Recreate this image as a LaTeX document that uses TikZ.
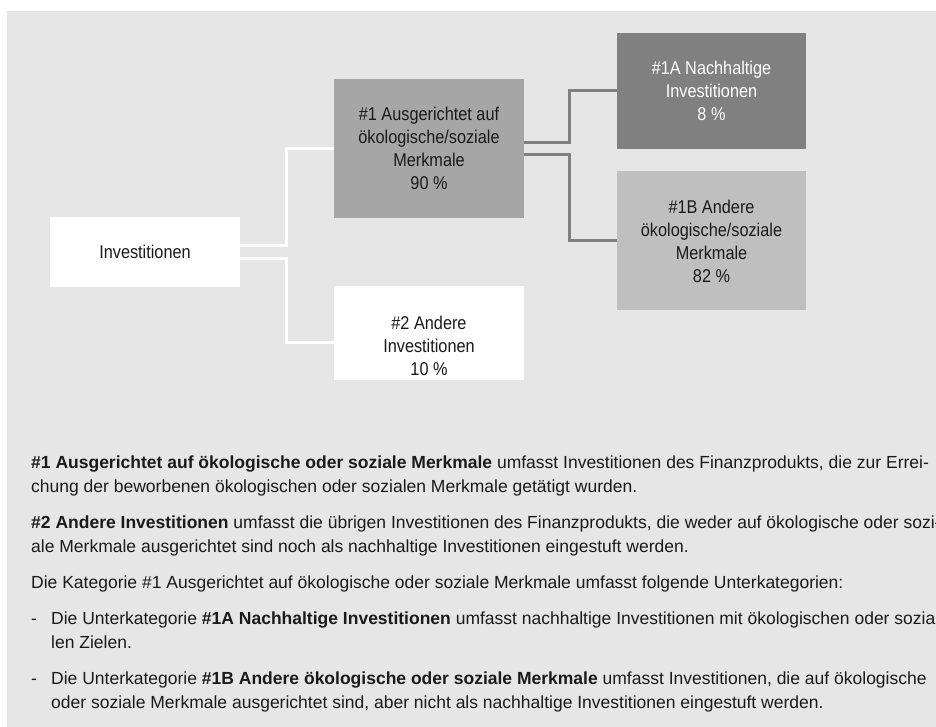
\documentclass[tikz,border=0pt]{standalone}
\usepackage{fontspec}
\setmainfont{Liberation Sans}
\newfontfamily\boxfont{Liberation Sans}[FakeStretch=0.88]
\usetikzlibrary{positioning, calc}
\definecolor{PanelGray}{HTML}{E6E6E6}
\definecolor{MidGray}{HTML}{A6A6A6}
\definecolor{DarkGray}{HTML}{808080}
\definecolor{LightGray}{HTML}{BFBFBF}
\definecolor{InkBlack}{HTML}{1A1A1A}
\tikzset{
  catbox/.style={draw=none, align=center, inner sep=0pt, minimum width=190pt, text=InkBlack, font=\boxfont\fontsize{18.5}{23}\selectfont},
  whitebox/.style={catbox, fill=white},
  midbox/.style={catbox, fill=MidGray},
  darkbox/.style={catbox, fill=DarkGray, text=white},
  lightbox/.style={catbox, fill=LightGray},
  whiteline/.style={draw=white, line width=3pt},
  grayline/.style={draw=DarkGray, line width=3pt},
  para/.style={anchor=base west, align=left, inner sep=0pt, text=InkBlack, font=\fontsize{17.5}{24}\selectfont}
}
\begin{document}
\begin{tikzpicture}[x=1pt, y=-1pt]
\useasboundingbox (0,0) rectangle (936,727);
\fill[white] (0,0) rectangle (936,727);
\fill[PanelGray] (7,11) rectangle (936,727);
\node[whitebox, minimum height=70pt] (inv) at (145,252) {Investitionen};
\node[midbox, minimum height=139pt] (cat1) at (429,148.5) {\#1 Ausgerichtet auf\\ökologische/soziale\\Merkmale\\90 \%};
\node[whitebox, minimum height=94pt, below=68pt of cat1] (cat2) {\strut\\\#2 Andere\\Investitionen\\10 \%};
\node[darkbox, minimum width=189pt, minimum height=116pt] (cat1a) at (711.5,91) {\#1A Nachhaltige\\Investitionen\\8 \%};
\node[lightbox, minimum width=189pt, minimum height=139pt, below=22pt of cat1a] (cat1b) {\#1B Andere\\ökologische/soziale\\Merkmale\\82 \%};
\draw[whiteline] ($(inv.east)+(0,-6)$) -- ++(46,0) |- (cat1.west);
\draw[whiteline] ($(inv.east)+(0,6)$) -- ++(46,0) |- ($(cat2.west)+(0,9)$);
\draw[grayline] ($(cat1.east)+(0,-6)$) -- ++(45,0) |- (cat1a.west);
\draw[grayline] ($(cat1.east)+(0,6)$) -- ++(45,0) |- (cat1b.west);
\node[para] (p1) at (31,492) {\textbf{\#1 Ausgerichtet auf ökologische oder soziale Merkmale} umfasst Investitionen des Finanzprodukts, die zur Errei-\\chung der beworbenen ökologischen oder sozialen Merkmale getätigt wurden.};
\node[para] (p2) at (31,552) {\textbf{\#2 Andere Investitionen} umfasst die übrigen Investitionen des Finanzprodukts, die weder auf ökologische oder sozi-\\ale Merkmale ausgerichtet sind noch als nachhaltige Investitionen eingestuft werden.};
\node[para] (p3) at (31,588) {Die Kategorie \#1 Ausgerichtet auf ökologische oder soziale Merkmale umfasst folgende Unterkategorien:};
\node[para] (p4) at (31,648) {\makebox[20pt][l]{-}Die Unterkategorie \textbf{\#1A Nachhaltige Investitionen} umfasst nachhaltige Investitionen mit ökologischen oder sozia-\\\hspace*{20pt}len Zielen.};
\node[para] (p5) at (31,708) {\makebox[20pt][l]{-}Die Unterkategorie \textbf{\#1B Andere ökologische oder soziale Merkmale} umfasst Investitionen, die auf ökologische\\\hspace*{20pt}oder soziale Merkmale ausgerichtet sind, aber nicht als nachhaltige Investitionen eingestuft werden.};
\end{tikzpicture}
\end{document}
